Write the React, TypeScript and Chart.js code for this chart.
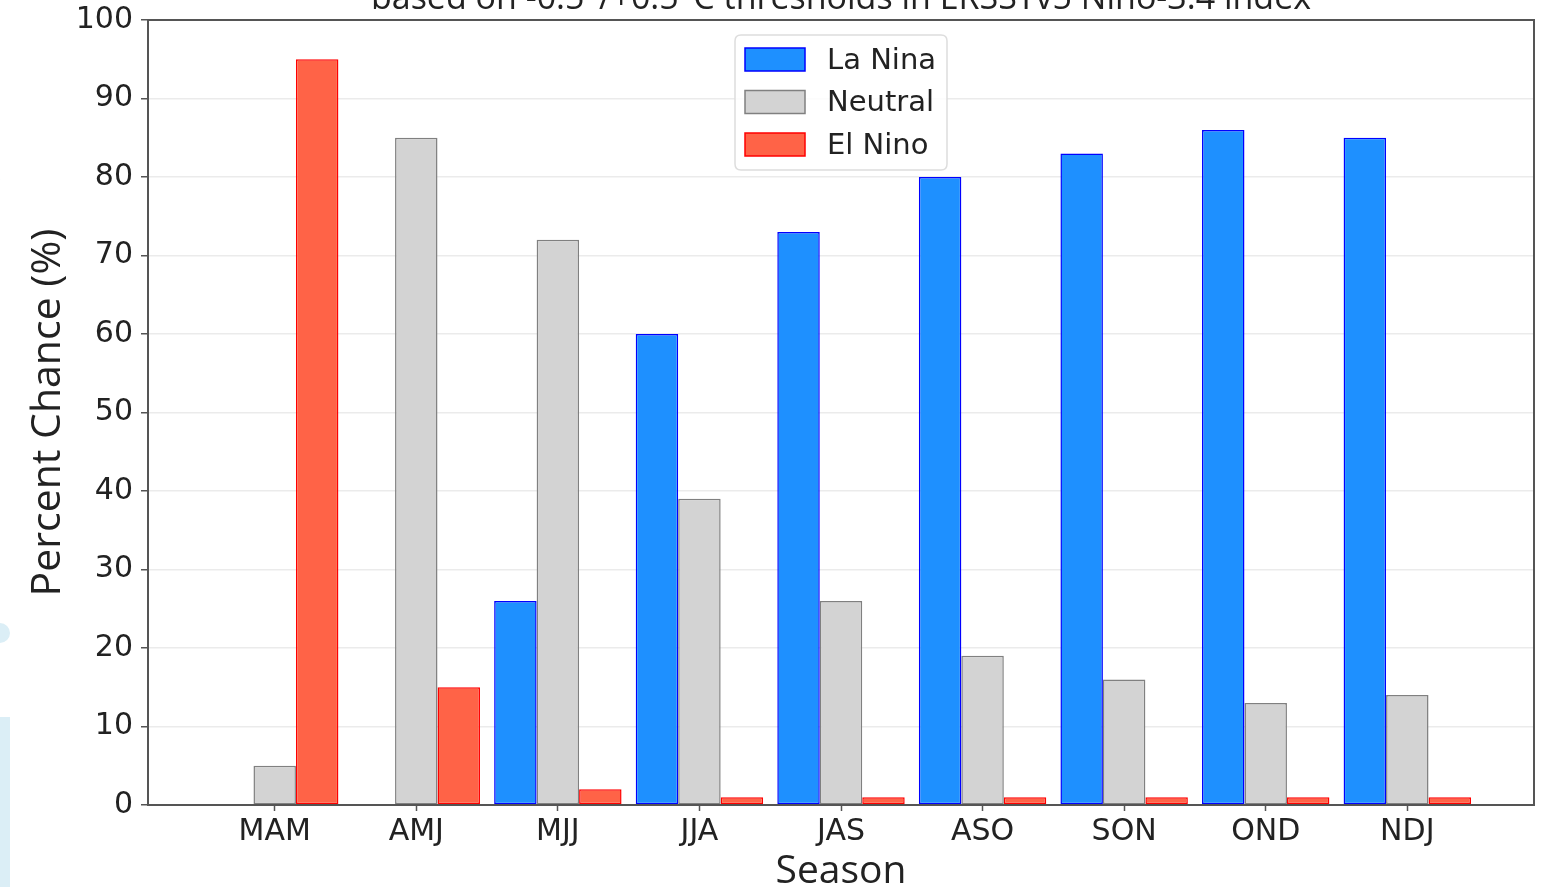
import React, { useEffect, useRef } from "react";
import { Chart, registerables } from "chart.js";

Chart.register(...registerables);

const seasons = ["MAM", "AMJ", "MJJ", "JJA", "JAS", "ASO", "SON", "OND", "NDJ"];
const laNina = [0, 0, 26, 60, 73, 80, 83, 86, 85];
const neutral = [5, 85, 72, 39, 26, 19, 16, 13, 14];
const elNino = [95, 15, 2, 1, 1, 1, 1, 1, 1];
const yTicks = [0, 10, 20, 30, 40, 50, 60, 70, 80, 90, 100];
const titleText = "based on -0.5\u00b0/+0.5\u00b0C thresholds in ERSSTv5 Nino-3.4 index";

const seriesStyle = [
  { label: "La Nina", data: laNina, fill: "#1E90FF", edge: "#0000FF" },
  { label: "Neutral", data: neutral, fill: "#D3D3D3", edge: "#808080" },
  { label: "El Nino", data: elNino, fill: "#FF6347", edge: "#FF0000" },
];

const framePlugin = {
  id: "frame",
  afterDatasetsDraw(chart: any) {
    const { ctx, chartArea } = chart;
    ctx.save();
    ctx.strokeStyle = "#555555";
    ctx.lineWidth = 2;
    ctx.strokeRect(chartArea.left, chartArea.top, chartArea.right - chartArea.left, chartArea.bottom - chartArea.top);
    ctx.restore();
  },
};

const titlePlugin = {
  id: "axesTitle",
  afterDraw(chart: any) {
    const { ctx, chartArea } = chart;
    const cx = (chartArea.left + chartArea.right) / 2;
    ctx.save();
    ctx.font = "34px 'Open Sans'";
    ctx.fillStyle = "#222222";
    ctx.textAlign = "center";
    ctx.textBaseline = "alphabetic";
    ctx.fillText(titleText, cx, chartArea.top - 11);
    ctx.restore();
  },
};

const legendPlugin = {
  id: "customLegend",
  afterDraw(chart: any) {
    const { ctx, chartArea } = chart;
    const cx = (chartArea.left + chartArea.right) / 2;
    const w = 212;
    const h = 135;
    const x0 = cx - w / 2;
    const y0 = chartArea.top + 15;
    ctx.save();
    ctx.beginPath();
    const r = 6;
    ctx.moveTo(x0 + r, y0);
    ctx.lineTo(x0 + w - r, y0);
    ctx.quadraticCurveTo(x0 + w, y0, x0 + w, y0 + r);
    ctx.lineTo(x0 + w, y0 + h - r);
    ctx.quadraticCurveTo(x0 + w, y0 + h, x0 + w - r, y0 + h);
    ctx.lineTo(x0 + r, y0 + h);
    ctx.quadraticCurveTo(x0, y0 + h, x0, y0 + h - r);
    ctx.lineTo(x0, y0 + r);
    ctx.quadraticCurveTo(x0, y0, x0 + r, y0);
    ctx.closePath();
    ctx.fillStyle = "rgba(255,255,255,0.85)";
    ctx.fill();
    ctx.strokeStyle = "#dddddd";
    ctx.lineWidth = 1.5;
    ctx.stroke();
    ctx.font = "29px 'DejaVu Sans'";
    ctx.textBaseline = "middle";
    seriesStyle.forEach((s, i) => {
      const sy = y0 + 13 + i * 42.5;
      ctx.fillStyle = s.fill;
      ctx.fillRect(x0 + 10, sy, 60, 23);
      ctx.strokeStyle = s.edge;
      ctx.lineWidth = 1.5;
      ctx.strokeRect(x0 + 10, sy, 60, 23);
      ctx.fillStyle = "#222222";
      ctx.fillText(s.label, x0 + 92, sy + 13);
    });
    ctx.restore();
  },
};

export default function App() {
  const ref = useRef<HTMLCanvasElement | null>(null);
  useEffect(() => {
    if (!ref.current) return;
    const chart = new Chart(ref.current, {
      type: "bar",
      data: {
        datasets: seriesStyle.map((s) => ({
          label: s.label,
          data: s.data.map((v, i) => ({ x: i, y: v })),
          backgroundColor: s.fill,
          borderColor: s.edge,
          borderWidth: 1.5,
          borderSkipped: false,
          minBarLength: 1,
          categoryPercentage: 0.9,
          barPercentage: 1.0,
        })),
      },
      plugins: [framePlugin, legendPlugin, titlePlugin],
      options: {
        animation: false,
        responsive: true,
        maintainAspectRatio: false,
        layout: { padding: { left: 0, right: 15, top: 50, bottom: 0 } },
        plugins: {
          legend: { display: false },
          tooltip: { enabled: false },
          title: { display: false },
        },
        scales: {
          x: {
            type: "linear",
            offset: false,
            min: -0.895,
            max: 8.895,
            afterBuildTicks: (scale: any) => {
              scale.ticks = seasons.map((_, i) => ({ value: i }));
            },
            afterFit: (scale: any) => {
              scale.height = 86;
            },
            ticks: {
              autoSkip: false,
              maxRotation: 0,
              color: "#222222",
              font: { family: "'DejaVu Sans'", size: 30 },
              padding: 3,
              callback: (v: any) => seasons[Math.round(Number(v))] ?? "",
            },
            grid: {
              offset: false,
              drawOnChartArea: false,
              drawTicks: true,
              tickLength: 6,
              tickColor: "#555555",
              tickWidth: 1.5,
            },
            border: { display: false },
            title: {
              display: true,
              text: "Season",
              color: "#222222",
              font: { family: "'Open Sans'", size: 39, lineHeight: 1.0 },
              padding: { top: 0, bottom: 0 },
            },
          },
          y: {
            min: 0,
            max: 100,
            afterBuildTicks: (scale: any) => {
              scale.ticks = yTicks.map((v) => ({ value: v }));
            },
            afterFit: (scale: any) => {
              scale.width = 148;
            },
            ticks: {
              color: "#222222",
              font: { family: "'DejaVu Sans'", size: 30 },
              padding: 8,
            },
            grid: {
              color: "#ebebeb",
              lineWidth: 1.5,
              drawTicks: true,
              tickLength: 7,
              tickColor: "#555555",
              tickWidth: 1.5,
            },
            border: { display: false },
            title: {
              display: true,
              text: "Percent Chance (%)",
              color: "#222222",
              font: { family: "'Open Sans'", size: 41, lineHeight: 1.2 },
              padding: { top: 24, bottom: 0 },
            },
          },
        },
      },
    });
    return () => chart.destroy();
  }, []);

  const deco = "#dbeef6";
  return (
    <div style={{ position: "fixed", left: 0, top: 0, width: 1549, height: 891, overflow: "hidden", background: "#ffffff" }}>
      <div style={{ position: "absolute", left: -60, top: 165, width: 72, height: 140, borderRadius: "50%", borderTop: `3px solid ${deco}`, borderRight: `3px solid transparent` }} />
      <div style={{ position: "absolute", left: -10, top: 623, width: 20, height: 20, borderRadius: "50%", background: deco }} />
      <div style={{ position: "absolute", left: 0, top: 717, width: 10, height: 170, background: deco }} />
      <div style={{ position: "absolute", left: 0, top: -30, width: 1549, height: 921 }}>
        <canvas ref={ref} />
      </div>
    </div>
  );
}
